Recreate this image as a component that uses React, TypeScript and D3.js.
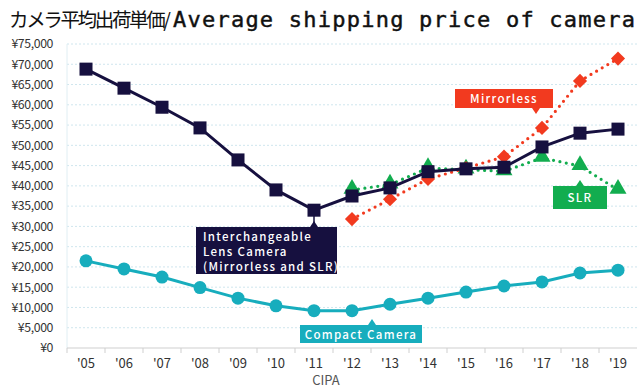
import * as d3 from 'd3';

const years = ["'05", "'06", "'07", "'08", "'09", "'10", "'11", "'12", "'13", "'14", "'15", "'16", "'17", "'18", "'19"];
const yTicks = [0, 5000, 10000, 15000, 20000, 25000, 30000, 35000, 40000, 45000, 50000, 55000, 60000, 65000, 70000, 75000];

const interchangeable = [68800, 64100, 59400, 54300, 46400, 39000, 34000, 37500, 39500, 43500, 44200, 44600, 49600, 53000, 54000];
const compact = [21500, 19500, 17500, 14900, 12300, 10400, 9200, 9200, 10800, 12300, 13800, 15300, 16300, 18500, 19200];
const mirrorlessYears = ["'12", "'13", "'14", "'15", "'16", "'17", "'18", "'19"];
const mirrorless = [31800, 36700, 41700, 44400, 47200, 54300, 65900, 71400];
const slrYears = ["'12", "'13", "'14", "'15", "'16", "'17", "'18", "'19"];
const slr = [39000, 40300, 44400, 44000, 43600, 46900, 44900, 39000];

const W = 640;
const H = 388;
const margin = { top: 44, right: 3, bottom: 40, left: 67 };

const NAVY = '#16103f';
const TEAL = '#17adbd';
const RED = '#f23a1f';
const GREEN = '#12ad4f';
const FONT = '"Noto Sans CJK JP", "Noto Sans", sans-serif';

export default function App() {
  const x = d3.scaleBand<string>().domain(years).range([margin.left, W - margin.right]);
  const y = d3.scaleLinear().domain([0, 75000]).range([H - margin.bottom, margin.top]);
  const cx = (d: string) => (x(d) as number) + x.bandwidth() / 2;

  const line = d3.line<[string, number]>().x(d => cx(d[0])).y(d => y(d[1]));
  const zip = (ks: string[], vs: number[]) => ks.map((k, i) => [k, vs[i]] as [string, number]);

  const navyPts = zip(years, interchangeable);
  const tealPts = zip(years, compact);
  const redPts = zip(mirrorlessYears, mirrorless);
  const greenPts = zip(slrYears, slr);

  const tri = d3.symbol().type(d3.symbolTriangle).size(125)();

  const callout = (label: string | string[], bx: number, by: number, bw: number, bh: number, fill: string, px: number, up: boolean) => {
    const lines = Array.isArray(label) ? label : [label];
    const tipY = up ? by - 6 : by + bh + 6;
    const baseY = up ? by : by + bh;
    return (
      <g>
        <rect x={bx} y={by} width={bw} height={bh} fill={fill} />
        <path d={`M${px - 4},${baseY} L${px},${tipY} L${px + 4},${baseY} Z`} fill={fill} />
        {lines.map((l, i) => (
          <text key={i} x={lines.length > 1 ? bx + 7 : bx + bw / 2} y={by + (lines.length > 1 ? 14 : bh / 2 + 4.5) + i * 15} fill="#fff"
            fontSize={11.5} fontWeight={500} letterSpacing={1.3} fontFamily={FONT}
            textAnchor={lines.length > 1 ? 'start' : 'middle'}>{l}</text>
        ))}
      </g>
    );
  };

  return (
    <svg width={W} height={H} style={{ position: 'absolute', left: 0, top: 0, background: '#fff' }}>
      <text x={9} y={27} fontSize={19.5} fontFamily={FONT} fill="#111" textLength={162} lengthAdjust="spacing">
        カメラ平均出荷単価/
      </text>
      <text x={173} y={27} fontSize={22} fontFamily='"DejaVu Sans Mono", monospace' fill="#111" stroke="#111" strokeWidth={0.45}
        textLength={462} lengthAdjust="spacing">
        Average shipping price of camera
      </text>

      {yTicks.map(t => (
        <g key={t}>
          {t > 0 && (
            <line x1={margin.left} x2={W - margin.right} y1={y(t)} y2={y(t)} stroke="#cfe6ee" strokeDasharray="2 2" />
          )}
          <text x={53} y={y(t)} dy="0.35em" textAnchor="end" fontSize={12.3} fontFamily={FONT} fill="#333" letterSpacing={-0.4}>
            ¥{d3.format(',')(t)}
          </text>
        </g>
      ))}
      <line x1={margin.left} x2={margin.left} y1={margin.top} y2={y(0)} stroke="#e0eef3" />
      <line x1={margin.left} x2={W - margin.right} y1={y(0)} y2={y(0)} stroke="#cfcfcf" />
      {years.map(yr => (
        <g key={yr}>
          <line x1={x(yr) as number} x2={x(yr) as number} y1={y(0)} y2={y(0) + 5} stroke="#cfcfcf" />
          <text x={cx(yr)} y={y(0) + 20} textAnchor="middle" fontSize={13} fontFamily={FONT} fill="#333">{yr}</text>
        </g>
      ))}
      <text x={326} y={384.5} textAnchor="middle" fontSize={13} fontFamily={FONT} fill="#555">CIPA</text>

      {/* compact */}
      <path d={line(tealPts) as string} fill="none" stroke={TEAL} strokeWidth={3} />
      {tealPts.map(d => <circle key={d[0]} cx={cx(d[0])} cy={y(d[1])} r={6.5} fill={TEAL} />)}

      {/* SLR */}
      <path d={line(greenPts) as string} fill="none" stroke={GREEN} strokeWidth={3.2} strokeDasharray="0 6.5" strokeLinecap="round" />
      {greenPts.map(d => <path key={d[0]} d={tri as string} transform={`translate(${cx(d[0])},${y(d[1]) - 1})`} fill={GREEN} />)}

      {/* mirrorless */}
      <path d={line(redPts) as string} fill="none" stroke={RED} strokeWidth={3.2} strokeDasharray="0 6.5" strokeLinecap="round" />
      {redPts.map(d => (
        <rect key={d[0]} x={-5} y={-5} width={10} height={10} fill={RED}
          transform={`translate(${cx(d[0])},${y(d[1])}) rotate(45)`} />
      ))}

      {/* interchangeable */}
      <path d={line(navyPts) as string} fill="none" stroke={NAVY} strokeWidth={3} />
      {navyPts.map(d => <rect key={d[0]} x={cx(d[0]) - 6.5} y={y(d[1]) - 6.5} width={13} height={13} fill={NAVY} />)}

      <line x1={cx("'11")} x2={cx("'11")} y1={y(34000)} y2={228} stroke={NAVY} strokeWidth={1.5} />
      {callout(['Interchangeable', 'Lens Camera', '(Mirrorless and SLR)'], 196, 227, 141, 47, NAVY, cx("'11"), true)}
      {callout('Mirrorless', 455, 89, 98, 19, RED, 536, false)}
      {callout('SLR', 553, 186, 54, 23, GREEN, 580, true)}
      {callout('Compact Camera', 300, 325, 122, 18, TEAL, 372, true)}
    </svg>
  );
}
